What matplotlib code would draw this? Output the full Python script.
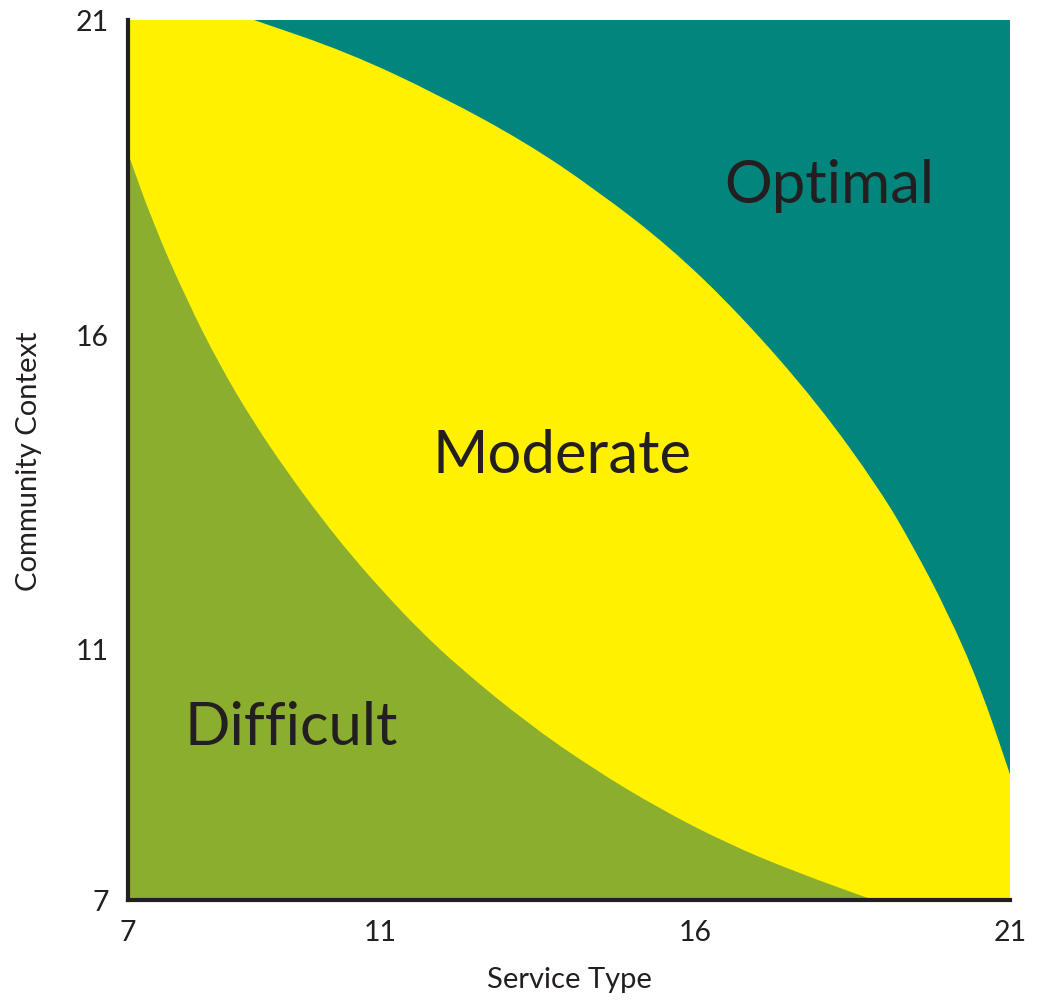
#!/usr/bin/env python3
"""Service type vs community context zone chart -> out.png"""
import matplotlib
matplotlib.use("Agg")
import matplotlib.pyplot as plt
from matplotlib.path import Path
from matplotlib.patches import PathPatch

# boundary between Moderate and Optimal
upper_x = [9.00, 10.48, 11.95, 13.32, 14.44, 15.59, 16.71, 17.94, 18.94, 19.46, 20.00, 20.52, 21.00]
upper_y = [21.00, 20.49, 19.80, 19.05, 18.29, 17.40, 16.32, 14.91, 13.52, 12.63, 11.60, 10.42, 9.00]

# boundary between Difficult and Moderate
lower_x = [7.00, 7.40, 7.94, 8.46, 8.98, 9.52, 10.05, 10.57, 11.11, 11.63, 12.27,
           13.33, 14.38, 15.44, 16.51, 17.56, 18.83]
lower_y = [18.88, 17.76, 16.53, 15.50, 14.62, 13.82, 13.10, 12.45, 11.84, 11.29, 10.69,
           9.82, 9.09, 8.45, 7.90, 7.46, 7.00]

ticks = [7, 11, 16, 21]
zones = ["Difficult", "Moderate", "Optimal"]

TEAL = "#02857d"
YELLOW = "#fff100"
GREEN = "#8cae2f"
INK = "#231f20"


def smooth_region(xs, ys, head, tail):
    """Closed path: head corners -> smoothed boundary through (xs, ys) -> tail corners."""
    pts = list(zip(xs, ys))
    verts, codes = [], []
    for i, p in enumerate(head):
        verts.append(p)
        codes.append(Path.MOVETO if i == 0 else Path.LINETO)
    verts.append(pts[0])
    codes.append(Path.LINETO if head else Path.MOVETO)
    mid = lambda a, b: ((a[0] + b[0]) / 2, (a[1] + b[1]) / 2)
    verts.append(mid(pts[0], pts[1]))
    codes.append(Path.LINETO)
    for i in range(1, len(pts) - 1):
        verts += [pts[i], mid(pts[i], pts[i + 1])]
        codes += [Path.CURVE3, Path.CURVE3]
    verts.append(pts[-1])
    codes.append(Path.LINETO)
    for p in tail:
        verts.append(p)
        codes.append(Path.LINETO)
    verts.append(verts[0])
    codes.append(Path.CLOSEPOLY)
    return Path(verts, codes)


plt.rcParams["font.family"] = ["Lato", "DejaVu Sans"]

fig = plt.figure(figsize=(10.41, 10.03), dpi=100)
ax = fig.add_axes([128 / 1041, 102 / 1003, 882 / 1041, 880 / 1003])
ax.set_xlim(7, 21)
ax.set_ylim(7, 21)
ax.set_facecolor(TEAL)

# yellow: everything under the upper boundary
ax.add_patch(PathPatch(smooth_region(upper_x, upper_y, [(7, 7), (7, 21)], [(21, 7)]),
                       facecolor=YELLOW, lw=0, zorder=1))
# green: everything under the lower boundary
ax.add_patch(PathPatch(smooth_region(lower_x, lower_y, [(7, 7)], []),
                       facecolor=GREEN, lw=0, zorder=2))

ax.text(7.90, 9.48, zones[0], fontsize=43, color=INK, zorder=3)
ax.text(11.83, 13.81, zones[1], fontsize=43, color=INK, zorder=3)
ax.text(16.46, 18.10, zones[2], fontsize=43, color=INK, zorder=3)

for side in ("top", "right"):
    ax.spines[side].set_visible(False)
for side in ("left", "bottom"):
    ax.spines[side].set_color(INK)
    ax.spines[side].set_linewidth(3)
    ax.spines[side].set_zorder(5)

ax.set_xticks(ticks)
ax.set_yticks(ticks)
ax.set_xticklabels([str(t) for t in ticks])
ax.set_yticklabels([str(t) for t in ticks])
ax.tick_params(length=0, pad=14, labelsize=20.5, labelcolor=INK)

ax.set_xlabel("Service Type", fontsize=21, color=INK)
ax.set_ylabel("Community Context", fontsize=21, color=INK)
ax.xaxis.set_label_coords(0.5, -0.075)
ax.yaxis.set_label_coords(-0.097, 0.5)

fig.savefig("out.png", dpi=100)
